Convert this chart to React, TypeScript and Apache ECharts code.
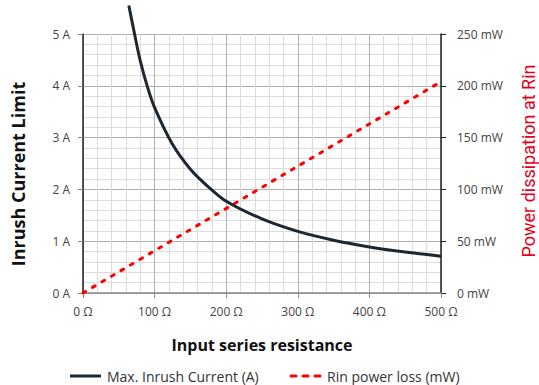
import React, { useEffect, useRef } from "react";
import * as echarts from "echarts";

const resistance = [64, 72, 80, 90, 100, 125, 150, 175, 200, 250, 300, 350, 400, 450, 500];
const inrushCurrent = [5.55, 5.0, 4.48, 3.98, 3.58, 2.87, 2.39, 2.05, 1.77, 1.43, 1.19, 1.02, 0.89, 0.79, 0.71];
const powerResistance = [0, 500];
const powerLoss = [0, 204];
const xTicks = [0, 100, 200, 300, 400, 500];
const leftTicks = [0, 1, 2, 3, 4, 5];
const rightTicks = [0, 50, 100, 150, 200, 250];
const seriesNames = ["Max. Inrush Current (A)", "Rin power loss (mW)"];

const FONT = "Open Sans";
const DARK = "#1d2731";
const RED = "#ff0000";

export default function App() {
  const ref = useRef<HTMLDivElement>(null);
  useEffect(() => {
    if (!ref.current) return;
    const chart = echarts.init(ref.current, null, { renderer: "svg" });
    chart.setOption({
      animation: false,
      textStyle: { fontFamily: FONT },
      grid: { left: 83, right: 98, top: 34, bottom: 92, containLabel: false },
      xAxis: {
        type: "value",
        min: xTicks[0],
        max: xTicks[xTicks.length - 1],
        interval: 100,
        axisLine: { show: true, lineStyle: { color: "#888", width: 1.5 } },
        axisTick: { show: true, length: 5, lineStyle: { color: "#888" } },
        axisLabel: { color: "#444", fontSize: 12, margin: 12, formatter: (v: number) => `${v} Ω` },
        splitLine: { show: true, lineStyle: { color: "#b0b0b0" } },
        minorTick: { show: false, splitNumber: 5 },
        minorSplitLine: { show: true, lineStyle: { color: "#dcdcdc" } },
      },
      yAxis: [
        {
          type: "value",
          min: leftTicks[0],
          max: leftTicks[leftTicks.length - 1],
          interval: 1,
          axisLine: { show: true, lineStyle: { color: "#222", width: 1.5 } },
          axisTick: { show: true, length: 5, lineStyle: { color: "#888" } },
          axisLabel: { color: "#444", fontSize: 12, margin: 13, formatter: (v: number) => `${v} A` },
          splitLine: { show: true, lineStyle: { color: "#b0b0b0" } },
          minorTick: { show: false, splitNumber: 5 },
          minorSplitLine: { show: true, lineStyle: { color: "#dcdcdc" } },
        },
        {
          type: "value",
          min: rightTicks[0],
          max: rightTicks[rightTicks.length - 1],
          interval: 50,
          position: "right",
          axisLine: { show: true, lineStyle: { color: "#222", width: 1.5 } },
          axisTick: { show: true, length: 5, lineStyle: { color: "#222" } },
          axisLabel: { color: "#444", fontSize: 12, margin: 16, formatter: (v: number) => `${v} mW` },
          splitLine: { show: false },
        },
      ],
      graphic: [
        {
          type: "text",
          x: 18,
          y: 174,
          rotation: Math.PI / 2,
          style: {
            text: "Inrush Current Limit",
            font: `bold 18px "${FONT}"`,
            fill: "#111",
            align: "center",
            verticalAlign: "middle",
          },
        },
        {
          type: "text",
          x: 528,
          y: 161,
          rotation: Math.PI / 2,
          style: {
            text: "Power dissipation at Rin",
            font: `18px "Roboto"`,
            fill: "#e8001a",
            align: "center",
            verticalAlign: "middle",
          },
        },
        {
          type: "text",
          x: 262,
          y: 345,
          style: {
            text: "Input series resistance",
            font: `bold 16px "${FONT}"`,
            fill: "#111",
            align: "center",
            verticalAlign: "middle",
          },
        },
        {
          type: "line",
          shape: { x1: 70, y1: 376, x2: 101, y2: 376 },
          style: { stroke: DARK, lineWidth: 3 },
        },
        {
          type: "text",
          x: 107,
          y: 376,
          style: {
            text: seriesNames[0],
            font: `14px "${FONT}"`,
            fill: "#333",
            align: "left",
            verticalAlign: "middle",
          },
        },
        {
          type: "line",
          shape: { x1: 291, y1: 376, x2: 320, y2: 376 },
          style: { stroke: RED, lineWidth: 3, lineDash: [5, 7], lineCap: "round" },
        },
        {
          type: "text",
          x: 327,
          y: 376,
          style: {
            text: seriesNames[1],
            font: `14px "${FONT}"`,
            fill: "#333",
            align: "left",
            verticalAlign: "middle",
          },
        },
      ],
      series: [
        {
          name: seriesNames[0],
          type: "line",
          yAxisIndex: 0,
          data: resistance.map((r, i) => [r, inrushCurrent[i]]),
          showSymbol: false,
          symbol: "none",
          smooth: 0.3,
          clip: false,
          lineStyle: { color: DARK, width: 3 },
          itemStyle: { color: DARK },
          z: 3,
        },
        {
          name: seriesNames[1],
          type: "line",
          yAxisIndex: 1,
          data: powerResistance.map((r, i) => [r, powerLoss[i]]),
          showSymbol: false,
          symbol: "none",
          lineStyle: { color: RED, width: 3, type: [3, 8], cap: "round" },
          itemStyle: { color: RED },
          z: 2,
        },
      ],
    });
    return () => chart.dispose();
  }, []);
  return <div ref={ref} style={{ width: 539, height: 385, position: "absolute", left: 0, top: 0 }} />;
}
